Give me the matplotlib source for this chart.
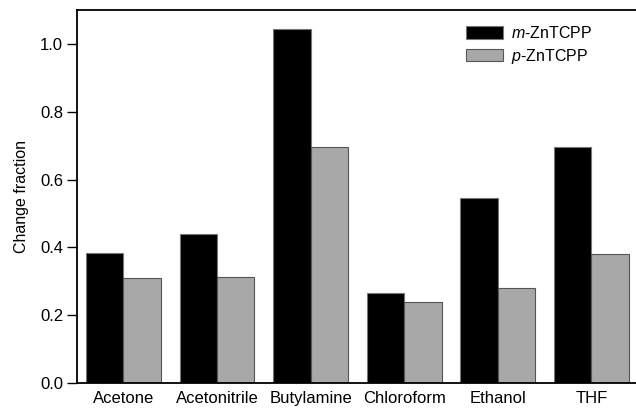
import matplotlib
matplotlib.use("Agg")
import matplotlib.pyplot as plt
import numpy as np

# disolventes y fraccion de cambio
disolventes = ["Acetone", "Acetonitrile", "Butylamine", "Chloroform", "Ethanol", "THF"]
m_zntcpp = [0.383, 0.440, 1.043, 0.265, 0.545, 0.695]
p_zntcpp = [0.309, 0.314, 0.697, 0.238, 0.279, 0.381]
series = ["$\\it{m}$-ZnTCPP", "$\\it{p}$-ZnTCPP"]

plt.rcParams["font.family"] = ["Liberation Sans", "DejaVu Sans"]
plt.rcParams["mathtext.fontset"] = "custom"
plt.rcParams["mathtext.rm"] = "Liberation Sans"
plt.rcParams["mathtext.it"] = "Liberation Sans:italic"

fig = plt.figure(figsize=(6.36, 4.08), dpi=100)
ax = fig.add_axes([77 / 636, 1 - 383 / 408, 1 - 77 / 636, 373 / 408])

x = np.arange(len(disolventes))
ancho = 0.4
ax.bar(x - ancho / 2, m_zntcpp, ancho, color="black", edgecolor="#777777",
       linewidth=0.8, label=series[0])
ax.bar(x + ancho / 2, p_zntcpp, ancho, color="#a8a8a8", edgecolor="#555555",
       linewidth=0.8, label=series[1])

ax.set_xlim(-0.496, 5.477)
ax.set_ylim(0, 1.1)
ax.set_xticks(x)
ax.set_xticklabels(disolventes, fontsize=12)
ax.set_yticks(np.arange(0, 1.01, 0.2))
ax.set_yticklabels([f"{v:.1f}" for v in np.arange(0, 1.01, 0.2)], fontsize=12)
ax.tick_params(axis="x", length=0, pad=6)
ax.tick_params(axis="y", direction="out", length=7, width=1, pad=3)
ax.set_ylabel("Change fraction", fontsize=11.5, labelpad=8)

ax.spines["right"].set_visible(False)
for s in ["left", "top", "bottom"]:
    ax.spines[s].set_linewidth(1.3)

ax.legend(loc="upper left", bbox_to_anchor=(466 / 636, 1 - 25 / 408),
          bbox_transform=fig.transFigure, frameon=False, fontsize=11.5,
          handlelength=2.3, handleheight=0.85, handletextpad=0.5,
          labelspacing=0.35, borderpad=0, borderaxespad=0)

plt.savefig("out.png", dpi=100)
plt.close()
